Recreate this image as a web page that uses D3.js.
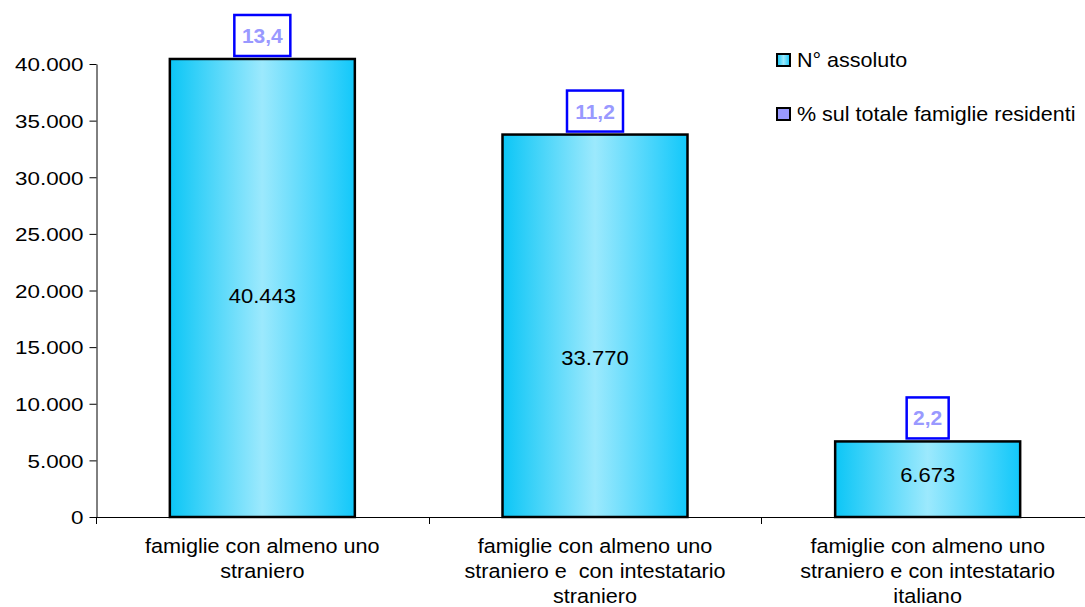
<!DOCTYPE html>
<html><head><meta charset="utf-8">
<script src="https://cdn.jsdelivr.net/npm/d3@7"></script>
<style>body{margin:0;background:#fff;}svg{display:block;font-family:"Liberation Sans",Arial,sans-serif;}</style>
</head><body>
<svg id="c" width="1085" height="607"></svg>
<script>
const categories = [
  ["famiglie con almeno uno", "straniero"],
  ["famiglie con almeno uno", "straniero e  con intestatario", "straniero"],
  ["famiglie con almeno uno", "straniero e con intestatario", "italiano"]
];
const absValues = [40443, 33770, 6673];
const pctValues = [13.4, 11.2, 2.2];
const yTicks = [0, 5000, 10000, 15000, 20000, 25000, 30000, 35000, 40000];
const legendLabels = ["N° assoluto", "% sul totale famiglie residenti"];

// layout-only: vertical shift of the in-bar value label from bar middle
const labelShift = [15, 39, 3];

const svg = d3.select("#c");
const fmtInt = v => d3.format(",")(v).replace(/,/g, ".");
const fmtPct = v => v.toFixed(1).replace(".", ",");
const stretch = (sx, ax) => `translate(${ax},0) scale(${sx},1) translate(${-ax},0)`;

const x = d3.scaleBand().domain(d3.range(categories.length)).range([96, 1094]).paddingInner(0).paddingOuter(0);
const y = d3.scaleLinear().domain([0, 40000]).range([517, 64]);

const defs = svg.append("defs");
const g = defs.append("linearGradient").attr("id", "bg").attr("x1", "0").attr("x2", "1").attr("y1", "0").attr("y2", "0");
g.append("stop").attr("offset", "0%").attr("stop-color", "#0cc6f6");
g.append("stop").attr("offset", "50%").attr("stop-color", "#9ce9fd");
g.append("stop").attr("offset", "100%").attr("stop-color", "#12c8fa");

// y axis
const ya = svg.append("g").attr("transform", "translate(96.5,0)")
  .call(d3.axisLeft(y).tickValues(yTicks).tickFormat(fmtInt).tickSize(7).tickSizeOuter(0));
ya.select(".domain").attr("stroke", "#000").attr("stroke-width", 1);
ya.selectAll(".tick line").attr("stroke", "#000");
ya.selectAll("text").attr("font-size", 19).attr("fill", "#000").attr("x", -13).attr("dy", "0.36em")
  .attr("font-family", "Liberation Sans, Arial, sans-serif")
  .attr("transform", stretch(1.18, -13));

// x axis
svg.append("line").attr("x1", 96).attr("x2", 1085).attr("y1", 517.5).attr("y2", 517.5).attr("stroke", "#000");
const xt = d3.range(categories.length + 1).map(i => 96 + i * x.bandwidth());
svg.selectAll(".xt").data(xt).enter().append("line")
  .attr("x1", d => Math.round(d) + 0.5).attr("x2", d => Math.round(d) + 0.5)
  .attr("y1", 517).attr("y2", 524).attr("stroke", "#000");

const bw = 185;
const bars = svg.selectAll(".bar").data(absValues).enter().append("g");
bars.append("rect")
  .attr("x", (d, i) => x(i) + x.bandwidth() / 2 - bw / 2)
  .attr("y", d => y(d))
  .attr("width", bw)
  .attr("height", d => y(0) - y(d))
  .attr("fill", "url(#bg)").attr("stroke", "#000").attr("stroke-width", 2.5);
bars.append("text")
  .attr("x", (d, i) => x(i) + x.bandwidth() / 2)
  .attr("y", (d, i) => (y(d) + y(0)) / 2 + labelShift[i])
  .attr("transform", (d, i) => stretch(1.1, x(i) + x.bandwidth() / 2))
  .attr("text-anchor", "middle").attr("font-size", 20).attr("fill", "#000")
  .text(d => fmtInt(d));

// pct labels
pctValues.forEach((p, i) => {
  const cx = x(i) + x.bandwidth() / 2;
  const top = y(absValues[i]);
  const t = fmtPct(p);
  const w = t.length > 3 ? 56 : 42;
  svg.append("rect").attr("x", cx - w / 2).attr("y", top - 44).attr("width", w).attr("height", 41)
    .attr("fill", "#fff").attr("stroke", "#0000ff").attr("stroke-width", 2.5);
  svg.append("text").attr("x", cx).attr("y", top - 16).attr("text-anchor", "middle")
    .attr("font-size", 21).attr("font-weight", "bold").attr("fill", "#9999ff").text(t);
});

// category labels
categories.forEach((lines, i) => {
  const cx = x(i) + x.bandwidth() / 2;
  const t = svg.append("text").attr("text-anchor", "middle").attr("font-size", 19.5).attr("fill", "#000")
    .style("white-space", "pre")
    .attr("transform", stretch(1.11, cx));
  lines.forEach((l, j) => t.append("tspan").attr("x", cx).attr("y", 553 + j * 25).text(l));
});

// legend
const legColors = ["url(#bg)", "#9999ff"];
legendLabels.forEach((l, i) => {
  const yy = 54 + i * 54;
  svg.append("rect").attr("x", 777).attr("y", yy).attr("width", 13).attr("height", 12)
    .attr("fill", legColors[i]).attr("stroke", "#000").attr("stroke-width", 2);
  svg.append("text").attr("x", 797).attr("y", yy + 13).attr("font-size", 20.5).attr("fill", "#000")
    .attr("transform", stretch(1.05, 797)).text(l);
});
</script>
</body></html>
